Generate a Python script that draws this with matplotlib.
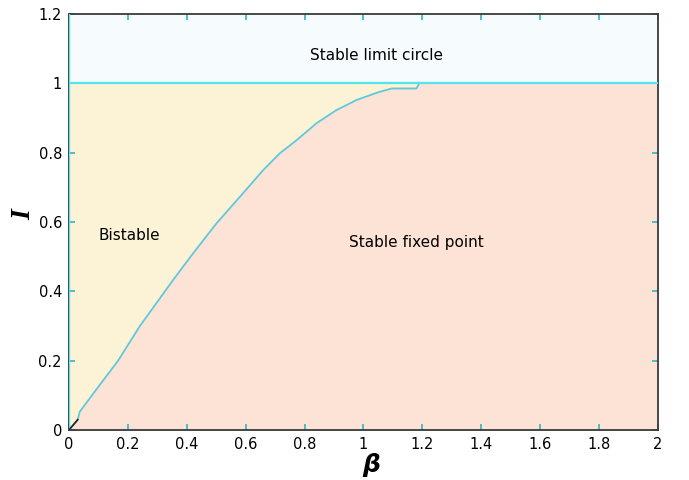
import matplotlib
matplotlib.use("Agg")
import matplotlib.pyplot as plt
import numpy as np

# Boundary curve between bistable and stable fixed point regions
beta_curve = [0, 0.03, 0.037, 0.1, 0.167, 0.241, 0.354, 0.422, 0.501, 0.581,
              0.66, 0.716, 0.773, 0.841, 0.909, 0.954, 0.977, 1.05, 1.096, 1.18, 1.19]
I_curve = [0, 0.03, 0.053, 0.125, 0.2, 0.3, 0.433, 0.51, 0.596, 0.673,
           0.75, 0.798, 0.836, 0.885, 0.923, 0.942, 0.952, 0.974, 0.985, 0.985, 1.0]
I_limit = 1.0
x_ticks = [0, 0.2, 0.4, 0.6, 0.8, 1, 1.2, 1.4, 1.6, 1.8, 2]
x_tick_labels = ["0", "0.2", "0.4", "0.6", "0.8", "1", "1.2", "1.4", "1.6", "1.8", "2"]
y_ticks = [0, 0.2, 0.4, 0.6, 0.8, 1, 1.2]
y_tick_labels = ["0", "0.2", "0.4", "0.6", "0.8", "1", "1.2"]
region_labels = ["Stable limit circle", "Bistable", "Stable fixed point"]

fig = plt.figure(figsize=(6.89, 4.80), dpi=100)
ax = fig.add_axes([0.100, 0.104, 0.855, 0.867])

xmin, xmax, ymin, ymax = 0, 2, 0, 1.2
bc = np.array(beta_curve)
ic = np.array(I_curve)

# limit circle region
ax.fill_between([xmin, xmax], I_limit, ymax, color="#F6FBFE", lw=0)
# bistable region (left of curve, below 1)
ax.fill_betweenx(ic, 0, bc, color="#FCF3D6", lw=0)
# stable fixed point region
bx = np.concatenate([bc, [xmax]])
by = np.concatenate([ic, [I_limit]])
ax.fill_between(bx, 0, by, color="#FDE3D5", lw=0)

ax.plot(bc, ic, color="#5FC8DA", lw=1.3, zorder=3)
ax.plot(bc[:2], ic[:2], color="#222222", lw=1.2, zorder=4)
ax.axhline(I_limit, color="#4FE6EE", lw=1.6, zorder=3)
ax.axvline(0, color="#4FE6EE", lw=1.0, zorder=3)

ax.set_xlim(xmin, xmax)
ax.set_ylim(ymin, ymax)
ax.set_xticks(x_ticks)
ax.set_xticklabels(x_tick_labels)
ax.set_yticks(y_ticks)
ax.set_yticklabels(y_tick_labels)
ax.tick_params(direction="in", length=4, width=1.2, color="#2BB5C8",
               top=True, right=True, labelsize=10.5, pad=5)
for s in ax.spines.values():
    s.set_color("#3a3a3a")
    s.set_linewidth(1.3)

ax.text(1.046, 1.079, region_labels[0], ha="center", va="center", fontsize=11)
ax.text(0.204, 0.562, region_labels[1], ha="center", va="center", fontsize=11)
ax.text(1.178, 0.542, region_labels[2], ha="center", va="center", fontsize=11)

ax.set_xlabel("β", fontsize=18, fontweight="bold", style="italic", va="center")
ax.xaxis.set_label_coords(0.513, -0.084)
ax.set_ylabel("I", fontsize=20, fontweight="bold", style="italic",
              family="Liberation Serif", va="center")
ax.yaxis.set_label_coords((24 - 69) / 589, (430 - 215) / 416)

fig.savefig("out.png", dpi=100)
